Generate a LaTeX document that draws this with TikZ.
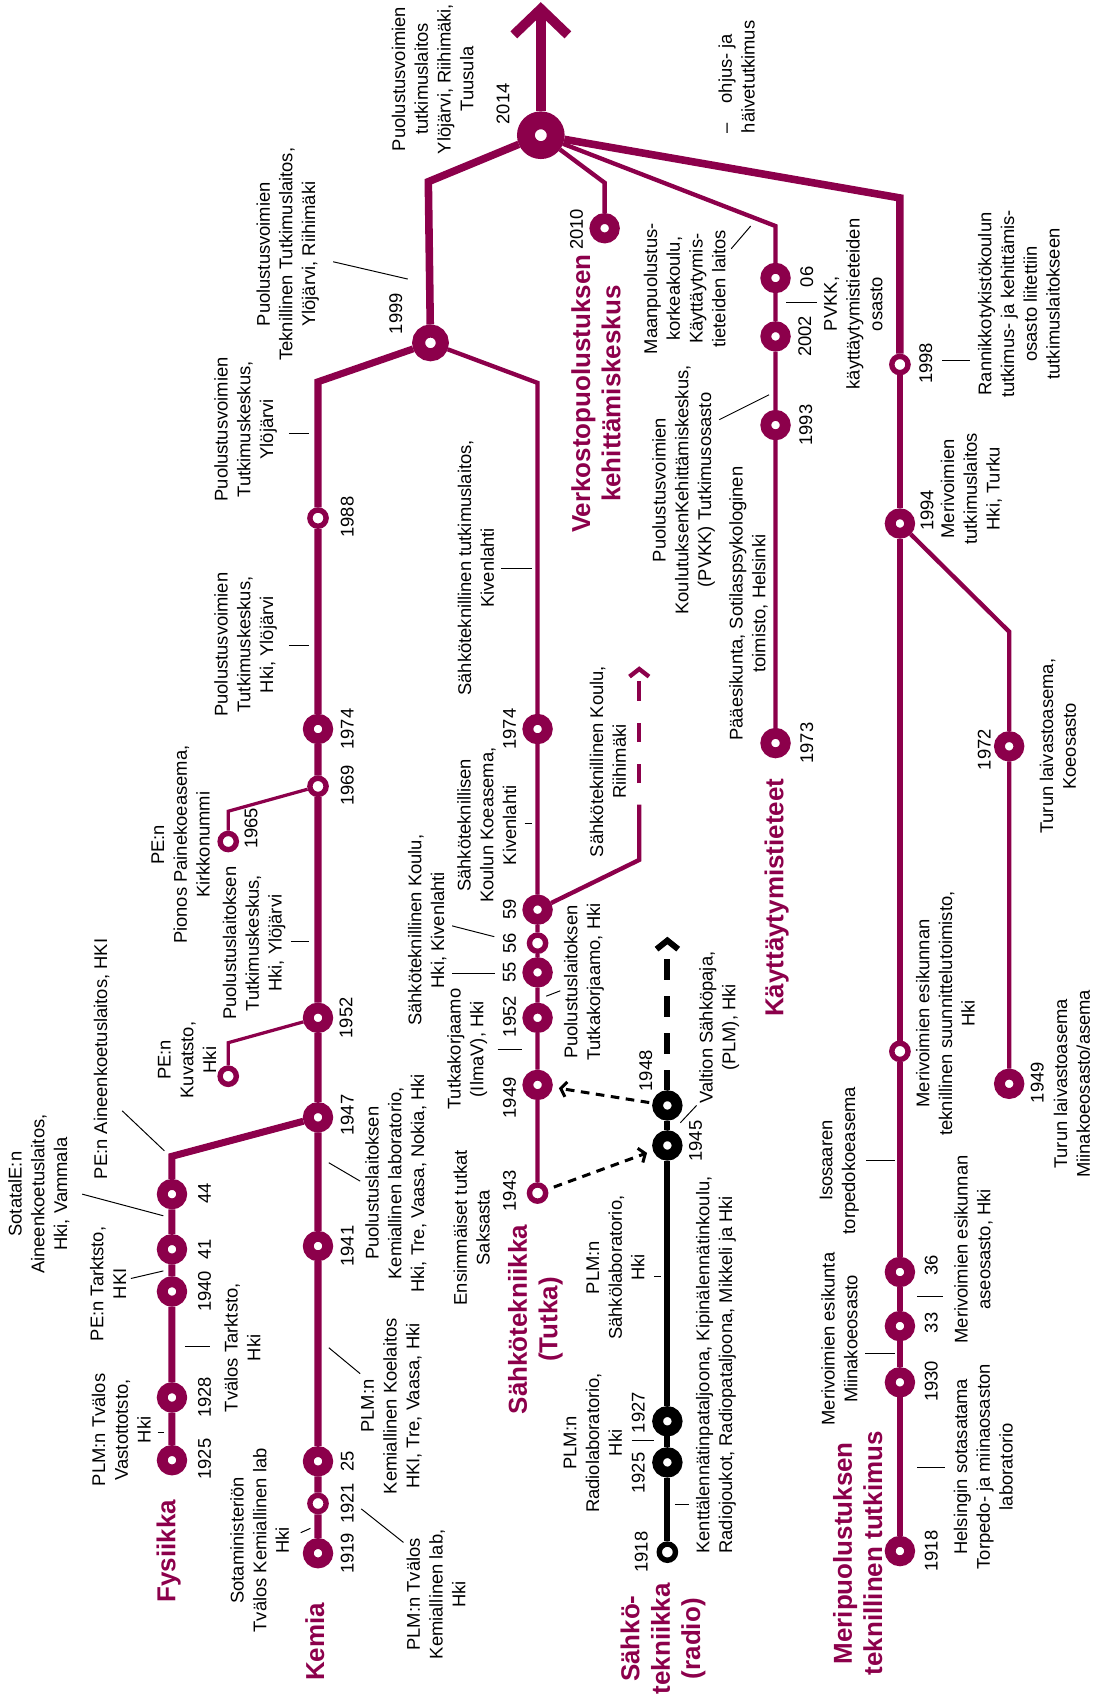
\documentclass[tikz,border=0pt]{standalone}
\usepackage{fontspec}
\setmainfont{Liberation Sans}
\usetikzlibrary{arrows.meta}
\definecolor{lila}{RGB}{140,0,75}
\pgfdeclarelayer{tausta}
\pgfsetlayers{tausta,main}
\tikzset{
  iso/.style={circle, draw=lila, fill=white, line width=10pt, minimum size=18pt, inner sep=0pt},
  pieni/.style={circle, draw=lila, fill=white, line width=5pt, minimum size=15pt, inner sep=0pt},
  musta/.style={iso, draw=black},
  mustapieni/.style={pieni, draw=black},
  vuosi/.style={rotate=90, inner sep=0pt, font=\fontsize{17}{21}\selectfont},
  teksti/.style={rotate=90, inner sep=0pt, align=center, font=\fontsize{17}{21}\selectfont},
  otsikko/.style={rotate=90, inner sep=0pt, align=center, text=lila, font=\fontsize{24}{28}\selectfont\bfseries},
  paksu/.style={draw=lila, line width=6.5pt},
  ohut/.style={draw=lila, line width=4pt},
  viiva/.style={draw=black, line width=0.9pt},
  katko/.style={draw=black, line width=2.8pt, dash pattern=on 8pt off 6pt, -{Straight Barb[length=5pt,width=14pt]}},
}
\begin{document}
\begin{tikzpicture}[x=1pt, y=-1pt]
\useasboundingbox (0,0) rectangle (1013,1568);

% puolustusvoimien tutkimuslaitos
\node[iso, minimum size=27.5pt, line width=16.5pt] (p2014) at (500,125) {};
\node[iso, minimum size=22pt, line width=12pt] (p1999) at (398,317) {};
\coordinate (nuoli) at (500,2);
\coordinate (pVasen) at (396,168);

% kemia
\node[iso] (k1919) at (294,1436) {};
\node[pieni] (k1921) at (294,1390) {};
\node[iso] (k1925) at (294,1351) {};
\node[iso] (k1941) at (294,1152) {};
\node[iso] (k1947) at (294,1033) {};
\node[iso] (k1952) at (294,941) {};
\node[pieni] (k1969) at (294,727) {};
\node[iso] (k1974) at (294,674) {};
\node[pieni] (k1988) at (294,479) {};
\coordinate (kYla) at (294,353);
\coordinate (kuvMutka) at (211,964);
\node[pieni] (kuv) at (211,995) {};
\coordinate (pioMutka) at (211,750);
\node[pieni] (pio) at (211,778) {};

% fysiikka
\node[iso] (f1925) at (159,1350) {};
\node[iso] (f1928) at (159,1292) {};
\node[iso] (f1940) at (159,1194) {};
\node[iso] (f1941) at (159,1155) {};
\node[iso] (f1944) at (159,1104) {};
\coordinate (fYla) at (159,1069);

% tutka
\coordinate (tYla) at (497,354);
\node[iso] (t1974) at (497,674) {};
\node[iso] (t1959) at (497,841) {};
\node[pieni] (t1956) at (497,872) {};
\node[iso] (t1955) at (497,899) {};
\node[iso] (t1952) at (497,941) {};
\node[iso] (t1949) at (497,1003) {};
\node[pieni] (t1943) at (497,1103) {};
\coordinate (rMutka) at (591,795);
\coordinate (rSuora) at (591,744);
\coordinate (rKarki) at (591,616);

% radio
\node[mustapieni] (r1918) at (617,1435) {};
\node[musta] (r1925) at (617,1352) {};
\node[musta] (r1927) at (617,1314) {};
\node[musta] (r1945) at (617,1059) {};
\node[musta] (r1948) at (617,1022) {};
\coordinate (rYla) at (617,866);

% kayttaytymistieteet ja verkosto
\coordinate (kayYla) at (717,209);
\node[iso] (k06) at (717,257) {};
\node[iso] (k2002) at (717,311) {};
\node[iso] (k1993) at (717,393) {};
\node[iso] (k1973) at (717,687) {};
\coordinate (vMutka) at (559,169);
\node[iso] (v2010) at (559,211) {};

% meripuolustus
\coordinate (mYla) at (832,183);
\node[pieni] (m1998) at (832,337) {};
\node[iso] (m1994) at (832,484) {};
\node[pieni] (mSuun) at (832,972) {};
\node[iso] (m1936) at (832,1176) {};
\node[iso] (m1933) at (832,1226) {};
\node[iso] (m1930) at (832,1278) {};
\node[iso] (m1918) at (832,1434) {};
\coordinate (tuMutka) at (933,584);
\node[iso] (tu1972) at (933,690) {};
\node[iso] (tu1949) at (933,1002) {};

\begin{pgfonlayer}{tausta}
\draw[paksu, line width=9pt, -{Straight Barb[length=24pt,width=50pt]}] (p2014) -- (nuoli);
\draw[paksu, line width=7pt] (p2014) -- (pVasen) -- (p1999);
\draw[ohut] (p2014) -- (vMutka) -- (v2010);
\draw[ohut] (p2014) -- (kayYla) -- (k06) -- (k2002) -- (k1993) -- (k1973);
\draw[paksu, line width=7pt] (p2014) -- (mYla) -- (m1998);
\draw[paksu, line width=5.5pt] (m1998) -- (m1994) -- (mSuun) -- (m1936) -- (m1933) -- (m1930) -- (m1918);
\draw[ohut] (m1994) -- (tuMutka) -- (tu1972) -- (tu1949);
\draw[paksu] (p1999) -- (kYla) -- (k1988) -- (k1974) -- (k1969) -- (k1952) -- (k1947) -- (k1941) -- (k1925) -- (k1921) -- (k1919);
\draw[ohut] (p1999) -- (tYla) -- (t1974) -- (t1959) -- (t1956) -- (t1955) -- (t1952) -- (t1949) -- (t1943);
\draw[paksu] (k1947) -- (fYla) -- (f1944) -- (f1941) -- (f1940) -- (f1928) -- (f1925);
\draw[ohut, line width=3pt] (k1952) -- (kuvMutka) -- (kuv);
\draw[ohut, line width=3pt] (k1969) -- (pioMutka) -- (pio);
\draw[ohut] (t1959) -- (rMutka) -- (rSuora);
\draw[ohut, dash pattern=on 18pt off 20pt, dash phase=18pt, -{Straight Barb[length=7pt,width=18pt]}] (rSuora) -- (rKarki);
\draw[black, line width=5.5pt] (r1918) -- (r1925) -- (r1927) -- (r1945) -- (r1948);
\draw[black, line width=5.5pt, dash pattern=on 19pt off 15pt, -{Straight Barb[length=8pt,width=20pt]}] (r1948) -- (rYla);
\draw[katko, shorten <=6pt, shorten >=6pt] (t1943) -- (r1945);
\draw[katko, shorten <=3pt, shorten >=6pt] (r1948) -- (t1949);
\end{pgfonlayer}

% otsikot
\node[otsikko] (tFys) at (156,1434) {Fysiikka};
\node[otsikko] (tKemia) at (291,1518) {Kemia};
\node[otsikko] (tTutka) at (495,1220) {Sähkötekniikka\\(Tutka)};
\node[otsikko] (tRadio) at (613,1515) {Sähkö-\\tekniikka\\(radio)};
\node[otsikko] (tVerkosto) at (551,364) {Verkostopuolustuksen\\kehittämiskeskus};
\node[otsikko] (tKayt) at (718,830) {Käyttäytymistieteet};
\node[otsikko] (tMeri) at (793,1436) {Meripuolustuksen\\teknillinen tutkimus};

% vuodet
\node[vuosi] (yf1925) at (189,1349) {1925};
\node[vuosi] (yf1928) at (189,1292) {1928};
\node[vuosi] (yf1940) at (189,1194) {1940};
\node[vuosi] (yf1941) at (189,1155) {41};
\node[vuosi] (yf1944) at (189,1103) {44};
\node[vuosi] (yk1919) at (321,1436) {1919};
\node[vuosi] (yk1921) at (321,1390) {1921};
\node[vuosi] (yk1925) at (321,1351) {25};
\node[vuosi] (yk1941) at (321,1152) {1941};
\node[vuosi] (yk1947) at (321,1031) {1947};
\node[vuosi] (yk1952) at (320,941) {1952};
\node[vuosi] (yk1969) at (321,726) {1969};
\node[vuosi] (yk1974) at (321,674) {1974};
\node[vuosi] (yk1988) at (321,478) {1988};
\node[vuosi] (yk1965) at (232,766) {1965};
\node[vuosi] (yp1999) at (366,290) {1999};
\node[vuosi] (yp2014) at (465,96) {2014};
\node[vuosi] (yt1943) at (471,1101) {1943};
\node[vuosi] (yt1949) at (471,1015) {1949};
\node[vuosi] (yt1952) at (471,940) {1952};
\node[vuosi] (yt1955) at (471,899) {55};
\node[vuosi] (yt1956) at (471,872) {56};
\node[vuosi] (yt1959) at (471,841) {59};
\node[vuosi] (yt1974) at (471,674) {1974};
\node[vuosi] (yr1918) at (593,1435) {1918};
\node[vuosi] (yr1925) at (590,1362) {1925};
\node[vuosi] (yr1927) at (590,1306) {1927};
\node[vuosi] (yr1945) at (643,1055) {1945};
\node[vuosi] (yr1948) at (597,990) {1948};
\node[vuosi] (yv2010) at (533,212) {2010};
\node[vuosi] (yk1973) at (746,687) {1973};
\node[vuosi] (yk1993) at (745,393) {1993};
\node[vuosi] (yk2002) at (744,311) {2002};
\node[vuosi] (yk06) at (746,256) {06};
\node[vuosi] (ym1918) at (861,1434) {1918};
\node[vuosi] (ym1930) at (861,1277) {1930};
\node[vuosi] (ym1933) at (861,1223) {33};
\node[vuosi] (ym1936) at (861,1170) {36};
\node[vuosi] (ym1994) at (857,472) {1994};
\node[vuosi] (ym1998) at (856,336) {1998};
\node[vuosi] (ytu1972) at (910,693) {1972};
\node[vuosi] (ytu1949) at (959,1001) {1949};

% fysiikka ja kemia
\node[teksti] (fSotatal) at (36,1104) {SotatalE:n\\Aineenkoetuslaitos,\\Hki, Vammala};
\node[teksti] (fPEAine) at (94,979) {PE:n Aineenkoetuslaitos, HKI};
\node[teksti] (fPETark) at (100,1187) {PE:n Tarktsto,\\HKI};
\node[teksti] (fPLM) at (112,1322) {PLM:n Tvälos\\Vastottotsto,\\Hki};
\node[teksti] (fTvTark) at (224,1246) {Tvälos Tarktsto,\\Hki};
\node[teksti] (kSotamin) at (240,1424) {Sotaministeriön\\Tvälos Kemiallinen lab\\Hki};
\node[teksti] (kPLMlab) at (403,1474) {PLM:n Tvälos\\Kemiallinen lab,\\Hki};
\node[teksti] (kKoelaitos) at (362,1300) {PLM:n\\Kemiallinen Koelaitos\\HKI, Tre, Vaasa, Hki};
\node[teksti] (kLabor) at (366,1094) {Puolustuslaitoksen\\Kemiallinen laboratorio,\\Hki, Tre, Vaasa, Nokia, Hki};
\node[teksti] (kKuv) at (173,980) {PE:n\\Kuvatsto,\\Hki};
\node[teksti] (kPio) at (167,781) {PE:n\\Pionos Painekoeasema,\\Kirkkonummi};
\node[teksti] (kTutkPL) at (235,872) {Puolustuslaitoksen\\Tutkimuskeskus,\\Hki, Ylöjärvi};
\node[teksti] (kTutkPV1) at (227,596) {Puolustusvoimien\\Tutkimuskeskus,\\Hki, Ylöjärvi};
\node[teksti] (kTutkPV2) at (227,397) {Puolustusvoimien\\Tutkimuskeskus,\\Ylöjärvi};
\node[teksti] (pTekn) at (266,235) {Puolustusvoimien\\Teknillinen Tutkimuslaitos,\\Ylöjärvi, Riihimäki};
\node[teksti] (pTutkl) at (400,73) {Puolustusvoimien\\tutkimuslaitos\\Ylöjärvi, Riihimäki,\\Tuusula};
\node[teksti, align=left] (pOhjus) at (681,71) {–\hspace{18pt}ohjus- ja\\häivetutkimus};

% sahkotekniikka
\node[teksti] (tEnsim) at (436,1135) {Ensimmäiset tutkat\\Saksasta};
\node[teksti] (tKorj) at (432,970) {Tutkakorjaamo\\(IlmaV), Hki};
\node[teksti] (tKoulu) at (395,860) {Sähköteknillinen Koulu,\\Hki, Kivenlahti};
\node[teksti] (tKoeas) at (450,763) {Sähköteknillisen\\Koulun Koeasema,\\Kivenlahti};
\node[teksti] (tTutkl) at (440,525) {Sähköteknillinen tutkimuslaitos,\\Kivenlahti};
\node[teksti] (tPLKorj) at (540,908) {Puolustuslaitoksen\\Tutkakorjaamo, Hki};
\node[teksti] (tRiihi) at (562,704) {Sähköteknillinen Koulu,\\Riihimäki};
\node[teksti] (rValtion) at (665,950) {Valtion Sähköpaja,\\(PLM), Hki};
\node[teksti] (rRadiolab) at (548,1334) {PLM:n\\Radiolaboratorio,\\Hki};
\node[teksti] (rSahkolab) at (569,1172) {PLM:n\\Sähkölaboratorio,\\Hki};
\node[teksti, align=left] (rKentta) at (662,1262) {Kenttälennätinpataljoona, Kipinälennätinkoulu,\\Radiojoukot, Radiopataljoona, Mikkeli ja Hki};

% kayttaytymistieteet
\node[teksti] (kayPaae) at (692,558) {Pääesikunta, Sotilaspsykologinen\\toimisto, Helsinki};
\node[teksti] (kayPVKK) at (632,453) {Puolustusvoimien\\KoulutuksenKehittämiskeskus,\\(PVKK) Tutkimusosasto};
\node[teksti] (kayMaan) at (633,267) {Maanpuolustus-\\korkeakoulu,\\Käyttäytymis-\\tieteiden laitos};
\node[teksti] (kayOsasto) at (789,281) {PVKK,\\käyttäytymistieteiden\\osasto};

% meripuolustus
\node[teksti] (mRannikko) at (942,281) {Rannikkotykistökoulun\\tutkimus- ja kehittämis-\\osasto liitettiin\\tutkimuslaitokseen};
\node[teksti] (mTutkl) at (898,452) {Merivoimien\\tutkimuslaitos\\Hki, Turku};
\node[teksti] (mTurKoe) at (978,690) {Turun laivastoasema,\\Koeosasto};
\node[teksti] (mSuunn) at (874,937) {Merivoimien esikunnan\\teknillinen suunnittelutoimisto,\\Hki};
\node[teksti] (mTurMiina) at (991,1002) {Turun laivastoasema\\Miinakoeosasto/asema};
\node[teksti] (mIsosaari) at (776,1073) {Isosaaren\\torpedokoeasema};
\node[teksti] (mMiina) at (776,1238) {Merivoimien esikunta\\Miinakoeosasto};
\node[teksti] (mAse) at (900,1155) {Merivoimien esikunnan\\aseosasto, Hki};
\node[teksti] (mHelsinki) at (909,1356) {Helsingin sotasatama\\Torpedo- ja miinaosaston\\laboratorio};

% viivat
\draw[viiva] (146,1324) -- (152,1324);
\draw[viiva] (171,1245) -- (194,1245);
\draw[viiva] (121,1182) -- (151,1175);
\draw[viiva] (76,1104) -- (151,1124);
\draw[viiva] (113,1027) -- (152,1064);
\draw[viiva] (278,1417) -- (287,1413);
\draw[viiva] (334,1395) -- (373,1426);
\draw[viiva] (304,1246) -- (333,1270);
\draw[viiva] (304,1075) -- (333,1092);
\draw[viiva] (269,870) -- (286,870);
\draw[viiva] (267,597) -- (286,597);
\draw[viiva] (267,401) -- (286,401);
\draw[viiva] (308,242) -- (377,258);
\draw[viiva] (460,970) -- (483,970);
\draw[viiva] (418,900) -- (458,900);
\draw[viiva] (418,856) -- (457,866);
\draw[viiva] (485,761) -- (492,761);
\draw[viiva] (463,526) -- (492,526);
\draw[viiva] (505,921) -- (518,916);
\draw[viiva] (584,1332) -- (605,1332);
\draw[viiva] (605,1180) -- (611,1180);
\draw[viiva] (624,1391) -- (637,1391);
\draw[viiva] (629,1038) -- (644,1022);
\draw[viiva] (676,230) -- (694,209);
\draw[viiva] (665,388) -- (711,365);
\draw[viiva] (727,280) -- (755,280);
\draw[viiva] (871,333) -- (897,333);
\draw[viiva] (848,1199) -- (872,1199);
\draw[viiva] (800,1251) -- (827,1251);
\draw[viiva] (801,1073) -- (827,1073);
\draw[viiva] (848,1357) -- (874,1357);
\end{tikzpicture}
\end{document}
